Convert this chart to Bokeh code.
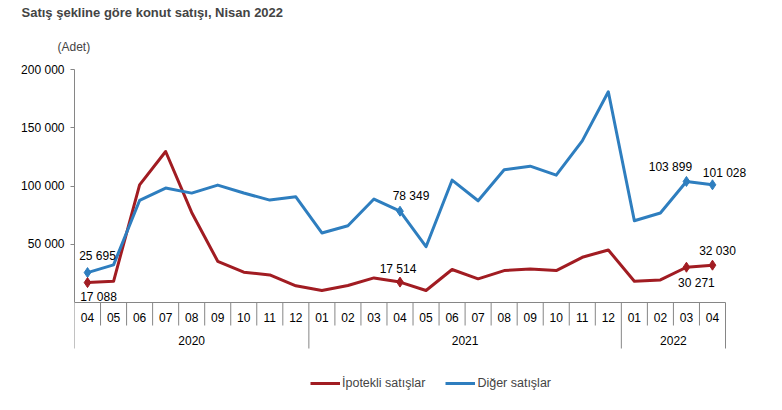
from bokeh.plotting import figure
from bokeh.models import (Range1d, FixedTicker, Title, Legend, LegendItem, ColumnDataSource)
from bokeh.embed import file_html
from bokeh.resources import INLINE
from bokeh.core.properties import value

# ---------------- data ----------------
years = ["2020"] * 9 + ["2021"] * 12 + ["2022"] * 4
months = ["04", "05", "06", "07", "08", "09", "10", "11", "12",
          "01", "02", "03", "04", "05", "06", "07", "08", "09", "10", "11", "12",
          "01", "02", "03", "04"]
ipotekli = [17088, 18200, 101000, 129600, 77300, 35400, 26000, 23700, 14300,
            10300, 14600, 21100, 17514, 10300, 28300, 20300, 27400, 28800, 27400, 38800, 45100,
            18200, 19400, 30271, 32030]
diger = [25695, 32300, 87600, 98200, 93900, 100800, 94000, 87900, 90700,
         59700, 65900, 88800, 78349, 47900, 105000, 87300, 113900, 117000, 109300, 138700, 180900,
         70200, 76800, 103899, 101028]
labeled_idx = [0, 12, 23, 24]
y_ticks = [50000, 100000, 150000, 200000]
y_tick_labels = ["50 000", "100 000", "150 000", "200 000"]
series_names = ["İpotekli satışlar", "Diğer satışlar"]
title_text = "Satış şekline göre konut satışı, Nisan 2022"
unit_text = "(Adet)"

# ---------------- style ----------------
RED = "#A11C22"
BLUE = "#2E7EBF"
AXIS = "#868686"
FONT = "Liberation Sans"
blue_off = [(10, -17), (11, -15), (-16, -14), (12, -12)]
red_off = [(11, 14), (-2, -13), (10, 16), (5, -14)]

W, H = 766, 394
FRAME_L, FRAME_T = 74, 69          # frame left / top in pixels
AXIS_R = 725                       # pixel where the category axis ends
n = len(months)
xc = [i + 0.5 for i in range(n)]   # category centres on the numeric scale
px_per_cat = (AXIS_R - FRAME_L) / n
x_end = n + (W - AXIS_R) / px_per_cat
ymax = y_ticks[-1]
px_per_unit = 233.0 / ymax
ymin = -(H - FRAME_T - 233) / px_per_unit   # frame runs down to the figure bottom

p = figure(width=W, height=H, output_backend="svg", toolbar_location=None,
           x_range=Range1d(0, x_end), y_range=Range1d(ymin, ymax),
           min_border_left=FRAME_L, min_border_right=0, min_border_top=FRAME_T,
           min_border_bottom=0)
p.outline_line_color = None
p.grid.visible = False
p.xaxis.visible = False

# y axis
ya = p.yaxis[0]
ya.ticker = FixedTicker(ticks=y_ticks)
ya.major_label_overrides = {t: l for t, l in zip(y_ticks, y_tick_labels)}
ya.bounds = (0, ymax)
ya.axis_line_color = AXIS
ya.major_tick_line_color = AXIS
ya.major_tick_out = 4
ya.major_tick_in = 0
ya.minor_tick_line_color = None
ya.major_label_standoff = 6
ya.major_label_text_font = FONT
ya.major_label_text_font_size = "12px"
ya.major_label_text_color = "#000000"

# x axis line, separators and category labels
p.segment(x0=[0], x1=[n], y0=[0], y1=[0], line_color=AXIS, line_width=1)
bounds_x = list(range(n + 1))
year_bounds = [i for i in bounds_x if i == 0 or i == n or years[i] != years[i - 1]]
short_len = -23 / px_per_unit
long_len = -46 / px_per_unit
p.segment(x0=bounds_x, x1=bounds_x, y0=[0] * len(bounds_x),
          y1=[long_len if b in year_bounds else short_len for b in bounds_x],
          line_color=AXIS, line_width=1)
p.text(x=xc, y=[0] * n, text=months, y_offset=15,
       text_font=value(FONT), text_font_size="12px", text_color="#000000",
       text_align="center", text_baseline="middle")
year_names = []
for y in years:
    if y not in year_names:
        year_names.append(y)
year_x = [sum(c for c, yy in zip(xc, years) if yy == y) / years.count(y) for y in year_names]
p.text(x=year_x, y=[0] * len(year_names), text=year_names, y_offset=38,
       text_font=value(FONT), text_font_size="12px", text_color="#000000",
       text_align="center", text_baseline="middle")

# lines
r_red = p.line(x=xc, y=ipotekli, line_color=RED, line_width=3, line_join="round")
r_blue = p.line(x=xc, y=diger, line_color=BLUE, line_width=3, line_join="round")

def fmt(v):
    return f"{v:,}".replace(",", " ")

for vals, col, offs in ((diger, BLUE, blue_off), (ipotekli, RED, red_off)):
    xs = [xc[i] for i in labeled_idx]
    ys = [vals[i] for i in labeled_idx]
    p.scatter(x=xs, y=ys, marker="diamond", size=10, fill_color=col, line_color=col)
    src = ColumnDataSource(dict(x=xs, y=ys, t=[fmt(v) for v in ys],
                                dx=[o[0] for o in offs], dy=[o[1] for o in offs]))
    p.text(x="x", y="y", text="t", x_offset="dx", y_offset="dy", source=src,
           text_font=value(FONT), text_font_size="12px", text_color="#000000",
           text_align="center", text_baseline="middle")

# titles
p.title.text = title_text
p.title.align = "left"
p.title.text_font = FONT
p.title.text_font_size = "13px"
p.title.text_font_style = "bold"
p.title.offset = -53
p.title.standoff = 3
p.add_layout(Title(text=unit_text, align="left", offset=-17, text_font=FONT,
                   text_font_size="12px", text_font_style="normal", standoff=32), "above")

# legend (inside the frame, below the category labels)
legend = Legend(items=[LegendItem(label=series_names[0], renderers=[r_red]),
                       LegendItem(label=series_names[1], renderers=[r_blue])],
                orientation="horizontal", location=(236, 4),
                border_line_color=None, background_fill_alpha=0,
                label_text_font=FONT, label_text_font_size="12.5px",
                glyph_width=30, glyph_height=12, label_standoff=2, spacing=20,
                padding=0, margin=0)
p.add_layout(legend)

open("out.html", "w").write(file_html(p, INLINE))
